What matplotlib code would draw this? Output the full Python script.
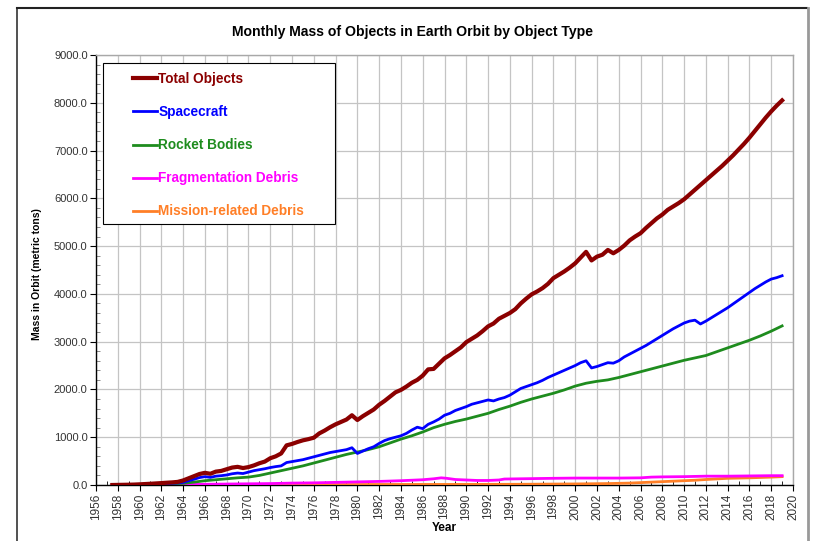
import matplotlib
matplotlib.use("Agg")
import matplotlib.pyplot as plt
from matplotlib.lines import Line2D
from matplotlib.patches import Rectangle
from matplotlib.ticker import MultipleLocator, FormatStrFormatter
import numpy as np

plt.rcParams['font.family'] = ['Liberation Sans', 'DejaVu Sans']

# ---------------- data (metric tons) ----------------
half_years = np.arange(1957.5, 2019.01, 0.5)

total_objects = [
    0, 2, 4, 6, 9, 14, 20, 26, 33, 40, 48, 55, 65, 95, 140, 185, 230, 255, 235, 280,
    295, 330, 365, 380, 355, 375, 410, 455, 490, 560, 600, 660, 830, 860, 900, 935,
    960, 990, 1080, 1140, 1210, 1270, 1320, 1370, 1460, 1360, 1440, 1510, 1580, 1680,
    1760, 1850, 1940, 1990, 2060, 2140, 2200, 2290, 2420, 2430, 2540, 2650, 2720, 2800,
    2880, 2990, 3060, 3130, 3220, 3320, 3380, 3480, 3540, 3600, 3680, 3800, 3900, 3990,
    4050, 4120, 4210, 4330, 4400, 4470, 4550, 4640, 4760, 4880, 4700, 4780, 4820, 4920,
    4850, 4920, 5010, 5120, 5200, 5270, 5380, 5480, 5580, 5660, 5760, 5830, 5900, 5980,
    6080, 6180, 6280, 6380, 6480, 6580, 6680, 6790, 6900, 7020, 7140, 7270, 7410, 7550,
    7690, 7820, 7940, 8050]

spacecraft = [
    0, 1, 2, 3, 5, 8, 12, 16, 20, 25, 30, 35, 42, 55, 90, 120, 155, 175, 160, 185,
    195, 210, 235, 250, 240, 270, 300, 320, 340, 365, 385, 400, 470, 490, 510, 530,
    560, 590, 620, 650, 680, 700, 720, 740, 780, 660, 710, 760, 800, 870, 930, 970,
    1000, 1030, 1080, 1150, 1210, 1180, 1270, 1320, 1380, 1460, 1500, 1560, 1600, 1640,
    1690, 1720, 1750, 1780, 1760, 1800, 1830, 1880, 1950, 2020, 2060, 2100, 2140, 2190,
    2250, 2300, 2350, 2400, 2450, 2500, 2560, 2600, 2450, 2480, 2520, 2560, 2550, 2600,
    2680, 2740, 2800, 2860, 2920, 2990, 3060, 3130, 3200, 3270, 3330, 3390, 3430, 3450,
    3370, 3430, 3500, 3570, 3640, 3710, 3790, 3870, 3950, 4030, 4110, 4180, 4250, 4310,
    4340, 4380]

rb_years = [1957.5, 1959, 1960, 1961, 1962, 1963, 1964, 1965, 1966, 1967, 1968, 1969,
            1970, 1971, 1972, 1973, 1974, 1975, 1976, 1977, 1978, 1979, 1980, 1981,
            1982, 1983, 1984, 1985, 1986, 1987, 1988, 1989, 1990, 1991, 1992, 1993,
            1994, 1995, 1996, 1997, 1998, 1999, 2000, 2001, 2002, 2003, 2004, 2005,
            2006, 2007, 2008, 2009, 2010, 2011, 2012, 2013, 2014, 2015, 2016, 2017,
            2018, 2019]
rocket_bodies = [0, 3, 6, 10, 15, 22, 35, 60, 90, 110, 130, 150, 165, 200, 250, 300,
                 350, 400, 460, 520, 580, 640, 690, 740, 800, 880, 960, 1030, 1110,
                 1200, 1270, 1330, 1380, 1440, 1500, 1580, 1650, 1730, 1800, 1860, 1920,
                 1990, 2070, 2130, 2170, 2200, 2250, 2310, 2370, 2430, 2490, 2550, 2610,
                 2660, 2710, 2790, 2870, 2950, 3030, 3120, 3220, 3330]

frag_years = [1957.5, 1960, 1962, 1964, 1966, 1968, 1970, 1972, 1974, 1976, 1978, 1980,
              1982, 1984, 1986, 1987, 1987.7, 1988.2, 1989, 1990, 1991, 1992, 1993,
              1993.5, 1995, 1998, 2000, 2002, 2004, 2006, 2007, 2008, 2010, 2012, 2014,
              2016, 2018, 2019]
fragmentation_debris = [0, 2, 5, 10, 15, 20, 25, 30, 40, 45, 55, 65, 75, 90, 110, 130,
                        150, 140, 115, 105, 95, 95, 105, 125, 130, 140, 145, 145, 145,
                        150, 165, 170, 175, 185, 185, 190, 195, 195]

mrd_years = [1957.5, 1965, 1970, 1980, 1990, 1995, 2000, 2003, 2005, 2007, 2009, 2011,
             2012, 2014, 2016, 2018, 2019]
mission_debris = [0, 3, 5, 10, 12, 15, 22, 30, 40, 60, 80, 100, 115, 140, 150, 165, 175]

series_labels = ["Total Objects", "Spacecraft", "Rocket Bodies",
                 "Fragmentation Debris", "Mission-related Debris"]
series_colors = ["#8B0000", "#0000FF", "#1E8C1E", "#FF00FF", "#FF7F27"]

# ---------------- figure ----------------
fig = plt.figure(figsize=(8.16, 5.41), dpi=100)
ax = fig.add_axes([96/816, 1-485/541, (793-96)/816, (485-55)/541])

ax.plot(mrd_years, mission_debris, color=series_colors[4], lw=2.0, zorder=5)
ax.plot(frag_years, fragmentation_debris, color=series_colors[3], lw=2.0, zorder=5)
ax.plot(rb_years, rocket_bodies, color=series_colors[2], lw=2.0, zorder=5)
ax.plot(half_years, spacecraft, color=series_colors[1], lw=2.0, zorder=5)
ax.plot(half_years, total_objects, color=series_colors[0], lw=3.0, zorder=5)

ax.set_xlim(1956, 2020)
ax.set_ylim(0, 9000)
ax.xaxis.set_major_locator(MultipleLocator(2))
ax.xaxis.set_minor_locator(MultipleLocator(1))
ax.yaxis.set_major_locator(MultipleLocator(1000))
ax.yaxis.set_minor_locator(MultipleLocator(200))
ax.yaxis.set_major_formatter(FormatStrFormatter('%.1f'))
ax.xaxis.set_major_formatter(FormatStrFormatter('%d'))

ax.grid(True, which='major', color='#c4c4c4', lw=0.9, zorder=0)
ax.set_axisbelow(True)
ax.tick_params(axis='x', which='major', direction='out', length=4, labelsize=8.5,
               labelrotation=90, labelcolor='#333333', pad=2)
ax.tick_params(axis='x', which='minor', direction='in', length=3)
ax.tick_params(axis='y', which='major', direction='out', length=4, labelsize=8,
               labelcolor='#333333', pad=2)
ax.tick_params(axis='y', which='minor', direction='in', length=3, color='#777777')

for s in ['top', 'right']:
    ax.spines[s].set_color('#a8a8a8')
    ax.spines[s].set_linewidth(1.0)
for s in ['left', 'bottom']:
    ax.spines[s].set_color('black')
    ax.spines[s].set_linewidth(1.0)

# legend box
ax.add_patch(Rectangle((0.010, 0.607), 0.333, 0.374, transform=ax.transAxes,
                       facecolor='white', edgecolor='black', lw=0.8, zorder=6))
handles = [Line2D([], [], color=c, lw=3.0 if i == 0 else 2.0)
           for i, c in enumerate(series_colors)]
leg = ax.legend(handles, series_labels, loc='upper left',
                bbox_to_anchor=(0.053, 0.960), frameon=False, borderpad=0,
                borderaxespad=0, handlelength=1.75, handletextpad=0.12,
                labelspacing=1.4, prop={'weight': 'bold', 'size': 9.8},
                labelcolor=series_colors)
leg.set_zorder(7)

ax.set_xlabel('Year', fontsize=8.5, fontweight='bold', labelpad=2)
ax.set_ylabel('Mass in Orbit (metric tons)', fontsize=7.5, fontweight='bold')
ax.yaxis.set_label_coords(-0.078, 0.49)

fig.text(412/816, 1-32/541, 'Monthly Mass of Objects in Earth Orbit by Object Type',
         ha='center', va='center', fontsize=10.1, fontweight='bold')

# outer chart frame
fig.add_artist(Line2D([17/816, 17/816], [0, 1-8/541], color='#333333', lw=1.2,
                      transform=fig.transFigure))
fig.add_artist(Line2D([17/816, 807/816], [1-8/541, 1-8/541], color='#222222', lw=1.5,
                      transform=fig.transFigure))
fig.add_artist(Line2D([808/816, 808/816], [0, 1-8/541], color='#999999', lw=2.0,
                      transform=fig.transFigure))

fig.savefig('out.png', dpi=100)
